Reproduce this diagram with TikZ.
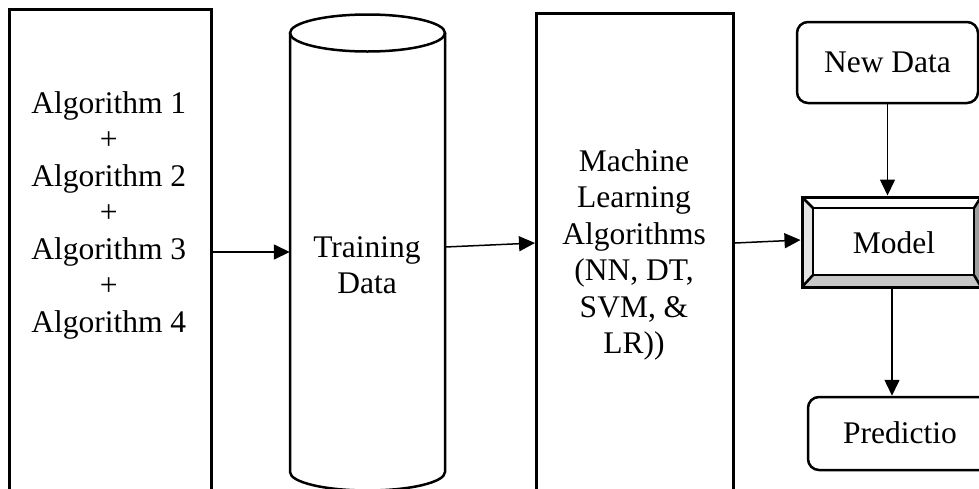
\documentclass[tikz,border=0pt]{standalone}
\usepackage{fontspec}
\setmainfont{Liberation Serif}
\usetikzlibrary{arrows.meta}
\begin{document}
\begin{tikzpicture}[x=1pt,y=-1pt,
  box/.style={draw,line width=3pt,inner sep=0pt},
  roundbox/.style={draw,line width=2.5pt,rounded corners=11pt,inner sep=0pt},
  lbl/.style={font=\fontsize{31.5}{36.5}\selectfont,align=center,inner sep=0pt},
  conn/.style={line width=1.5pt,-{Triangle[length=16pt,width=15pt]}}]
\useasboundingbox (0,0) rectangle (979,488);
\clip (0,0) rectangle (979,488);

% algorithm ensemble column
\node[box,minimum width=202.5pt,minimum height=520pt,anchor=north west] (algs) at (7.5,8) {};
\node[lbl] (algtext) at (108.75,215) {Algorithm 1\\+\\Algorithm 2\\+\\Algorithm 3\\+\\Algorithm 4};

% training data store (cylinder)
\draw[line width=2.5pt,fill=white] (290,33) -- (290,472)
  arc[start angle=180,end angle=360,x radius=77.5pt,y radius=18.5pt] -- (445,33);
\draw[line width=2.5pt] (367.5,33) ellipse [x radius=77.5pt,y radius=18.5pt];
\node[minimum width=155pt,minimum height=440pt,inner sep=0pt] (store) at (367.5,260) {};
\node[lbl] (storetext) at (367,265) {Training\\Data};

% learning algorithms column
\node[box,minimum width=197pt,minimum height=520pt,anchor=north west] (mlbox) at (535,12) {};
\node[lbl] (mltext) at (634,255) {Machine\\Learning\\Algorithms\\(NN, DT,\\SVM, \&\\LR))};

% new data
\node[roundbox,minimum width=181pt,minimum height=81pt] (newdata) at (887.5,62.5) {};
\node[lbl] at (newdata.center) {New Data};

% bevelled model box
\fill[white] (802,197) -- (981,197) -- (974,208) -- (813,208) -- cycle;
\fill[black!11] (802,197) -- (813,208) -- (813,275) -- (802,287) -- cycle;
\fill[black!22] (802,287) -- (813,275) -- (974,275) -- (981,287) -- cycle;
\fill[black!38] (981,197) -- (981,287) -- (974,275) -- (974,208) -- cycle;
\draw[line width=2.5pt,fill=white] (813,208) rectangle (974,275);
\draw[line width=2.5pt] (802,197) -- (813,208) (981,197) -- (974,208)
  (802,287) -- (813,275) (981,287) -- (974,275);
\node[box,minimum width=179pt,minimum height=90pt] (model) at (891.5,242) {};
\node[lbl] at (894,243) {Model};

% prediction
\node[roundbox,minimum width=184pt,minimum height=73pt] (pred) at (900,433.5) {};
\node[lbl] at (900,433) {Predictio};

% connectors
\coordinate (ya) at (0,252);
\coordinate (yb1) at (0,247);
\coordinate (yb2) at (0,243);
\coordinate (yc2) at (0,240);
\coordinate (xd) at (887.5,0);
\coordinate (xe) at (892,0);
\draw[conn] (algs.east |- ya) -- (store.west |- ya);
\draw[conn] (store.east |- yb1) -- (mlbox.west |- yb2);
\draw[conn] (mlbox.east |- yb2) -- (model.west |- yc2);
\draw[conn] (newdata.south -| xd) -- (model.north -| xd);
\draw[conn] (model.south -| xe) -- (pred.north -| xe);
\end{tikzpicture}
\end{document}
